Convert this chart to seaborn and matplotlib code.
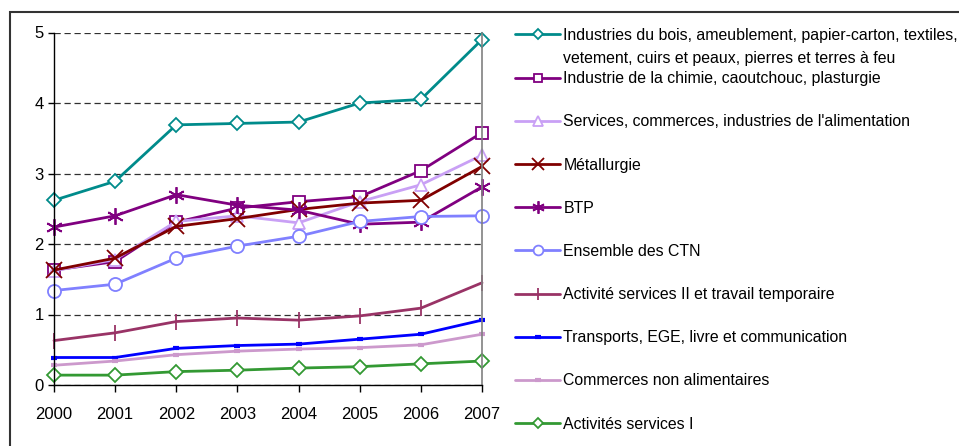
import matplotlib
matplotlib.use("Agg")
import matplotlib.pyplot as plt
import seaborn as sns
import pandas as pd
from matplotlib.patches import Rectangle

years = [2000, 2001, 2002, 2003, 2004, 2005, 2006, 2007]

series_names = [
    "Industries du bois, ameublement, papier-carton, textiles,",
    "Industrie de la chimie, caoutchouc, plasturgie",
    "Services, commerces, industries de l'alimentation",
    "Métallurgie",
    "BTP",
    "Ensemble des CTN",
    "Activité services II et travail temporaire",
    "Transports, EGE, livre et communication",
    "Commerces non alimentaires",
    "Activités services I",
]
label_line2 = "vetement, cuirs et peaux, pierres et terres à feu"

bois = [2.62, 2.89, 3.69, 3.71, 3.73, 4.00, 4.05, 4.90]
chimie = [1.63, 1.75, 2.31, 2.51, 2.60, 2.67, 3.04, 3.58]
alimentation = [1.62, 1.78, 2.32, 2.40, 2.30, 2.60, 2.84, 3.26]
metallurgie = [1.63, 1.80, 2.25, 2.36, 2.49, 2.58, 2.62, 3.10]
btp = [2.24, 2.40, 2.70, 2.55, 2.48, 2.28, 2.31, 2.81]
ensemble = [1.34, 1.43, 1.80, 1.97, 2.11, 2.32, 2.39, 2.40]
services2 = [0.63, 0.74, 0.90, 0.95, 0.92, 0.98, 1.09, 1.45]
transports = [0.39, 0.39, 0.52, 0.56, 0.58, 0.65, 0.72, 0.92]
commerces = [0.28, 0.34, 0.43, 0.48, 0.51, 0.53, 0.57, 0.72]
services1 = [0.14, 0.14, 0.19, 0.21, 0.24, 0.26, 0.30, 0.34]

all_values = [bois, chimie, alimentation, metallurgie, btp, ensemble,
              services2, transports, commerces, services1]

yticks = [0, 1, 2, 3, 4, 5]

# styles: color, marker, markersize, filled-white
styles = [
    ("#008B8B", "D", 7.2, True),
    ("#800080", "s", 8.4, True),
    ("#C9A0F5", "^", 9.0, True),
    ("#800000", "x", 11.0, False),
    ("#800080", (6, 2, 0), 12.0, False),
    ("#8080FF", "o", 9.4, True),
    ("#993366", "|", 11.0, False),
    ("#0000FF", "_", 5.0, False),
    ("#CC99CC", "_", 5.0, False),
    ("#339933", "D", 7.2, True),
]

sns.set_theme(style="ticks")
plt.rcParams["font.family"] = ["Liberation Sans", "DejaVu Sans"]

W, H = 959, 446
fig = plt.figure(figsize=(W / 100, H / 100), dpi=100)
ax = fig.add_axes([54 / W, 1 - 385 / H, (482 - 54) / W, (385 - 32.5) / H])

handles = []
for name, vals, (col, mk, ms, filled) in zip(series_names, all_values, styles):
    df = pd.DataFrame({"year": years, "value": vals})
    kw = dict(marker=mk, markersize=ms, markeredgecolor=col,
              markeredgewidth=1.3, linewidth=2.0, color=col)
    if filled:
        kw["markerfacecolor"] = "white"
    if mk == "_":
        kw["markeredgewidth"] = 3.0
    sns.lineplot(data=df, x="year", y="value", ax=ax, legend=False, **kw)
    line = ax.lines[-1]
    line.set_clip_on(False)
    line.set_label(name)
    handles.append(line)

ax.set_xlim(2000, 2007)
ax.set_ylim(0, 5)
ax.set_xticks(years)
ax.set_xticklabels([str(y) for y in years])
ax.set_yticks(yticks)
ax.set_yticklabels([str(t) for t in yticks])
ax.set_xlabel("")
ax.set_ylabel("")

ax.yaxis.grid(True, linestyle=(0, (5, 3)), color="#303030", linewidth=0.9)
ax.set_axisbelow(True)

for s in ["left", "bottom"]:
    ax.spines[s].set_color("black")
    ax.spines[s].set_linewidth(1.0)
ax.spines["top"].set_visible(False)
ax.spines["right"].set_visible(True)
ax.spines["right"].set_color("#808080")
ax.spines["right"].set_linewidth(1.2)

ax.tick_params(axis="y", direction="out", length=4.5, width=1, pad=3,
               labelsize=12, colors="black")
ax.tick_params(axis="x", direction="out", length=5, width=1, pad=11,
               labelsize=12, colors="black")

LFS = 11.4
leg = ax.legend(handles=handles, labels=series_names,
                loc="upper left", bbox_to_anchor=(515 / W, 1 - 28 / H),
                bbox_transform=fig.transFigure, frameon=False,
                fontsize=LFS, handlelength=2.85, handletextpad=0.2,
                labelspacing=1.78, borderpad=0, borderaxespad=0,
                markerscale=0.75)
for t in leg.get_texts():
    t.set_color("black")

fig.text(563 / W, 1 - 59 / H, label_line2, fontsize=LFS, va="center",
         ha="left", color="black")

fig.add_artist(Rectangle((10 / W, -0.5), 2.0, (1 - 12 / H) + 0.5,
                         transform=fig.transFigure, fill=False,
                         edgecolor="#333333", linewidth=1.5))

fig.savefig("out.png", dpi=100)
